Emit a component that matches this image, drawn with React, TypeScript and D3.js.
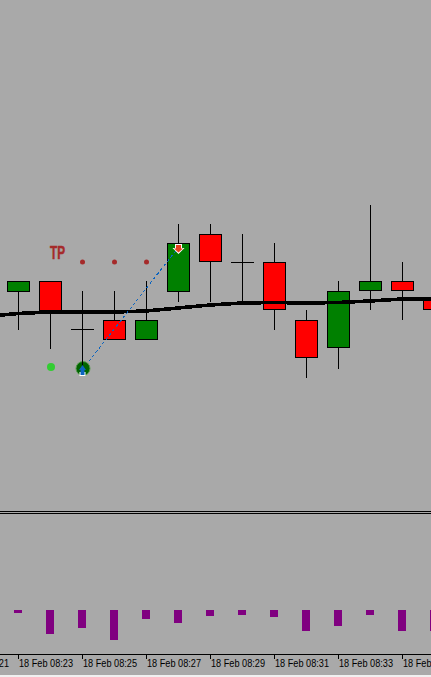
import React from "react";
import * as d3 from "d3";

const W = 431, H = 677;
// Prices are expressed in chart points (one point per screen pixel row)
const openClose = [
  [219, 208], [219, 189], [171, 171], [180, 160], [160, 180], [208, 257], [266, 238],
  [238, 238], [238, 190], [180, 142], [152, 209], [209, 219], [219, 209], [200, 190],
];
const highs = [219, 219, 209, 209, 219, 276, 276, 266, 257, 190, 219, 295, 238, 200];
const lows = [170, 151, 130, 160, 160, 198, 198, 197, 170, 122, 131, 190, 180, 190];
const redFlags = [0, 1, 0, 1, 0, 0, 1, 0, 1, 1, 0, 0, 1, 1];
const maValues = [183.5, 186.5, 188, 188, 188, 189, 192, 195, 197, 197.5, 197, 197.5, 199, 201, 201];
const histValues = [3, 24, 18, 30, 9, 13, 6, 5, 7, 21, 16, 5, 21, 21];
const tickLabels = ["18 Feb 08:21", "18 Feb 08:23", "18 Feb 08:25", "18 Feb 08:27", "18 Feb 08:29", "18 Feb 08:31", "18 Feb 08:33", "18 Feb 08:35"];
const tickIndex = [-2, 0, 2, 4, 6, 8, 10, 12];
const tpDots = [2, 3, 4];
const tradeOpen = { i: 2, price: 130 };
const tradeClose = { i: 5, price: 252 };
const entryDot = { i: 1, price: 133 };

const x = d3.scaleLinear().domain([0, 13]).range([18, 434]);
const y = d3.scaleLinear().domain([0, 300]).range([500, 200]);
const h = d3.scaleLinear().domain([0, 30]).range([610, 640]);

const ma = d3.line<number>().x((_, i) => x(i - 1)).y((d) => y(d));

export default function App() {
  return (
    <svg width={W} height={H} viewBox={`0 0 ${W} ${H}`} style={{ position: "absolute", left: 0, top: 0, display: "block" }}>
      <rect width={W} height={H} fill="#f0f0f0" />
      <rect width={W} height={675} fill="#a9a9a9" />

      <g shapeRendering="crispEdges">
        {highs.map((hi, i) => (
          <line key={i} x1={x(i) + 0.5} x2={x(i) + 0.5} y1={y(hi)} y2={y(lows[i])} stroke="#000" />
        ))}
        {openClose.map(([o, c], i) => {
          const top = y(Math.max(o, c));
          const bot = y(Math.min(o, c));
          if (o === c) {
            return <line key={i} x1={x(i) - 11} x2={x(i) + 12} y1={top + 0.5} y2={top + 0.5} stroke="#000" />;
          }
          return (
            <rect key={i} x={x(i) - 10.5} y={top + 0.5} width={22} height={bot - top - 1}
              fill={redFlags[i] ? "#ff0000" : "#008000"} stroke="#000" />
          );
        })}
      </g>

      <path d={ma(maValues) ?? ""} fill="none" stroke="#000" strokeWidth={3.6} shapeRendering="crispEdges" />

      <line x1={x(tradeOpen.i)} y1={y(tradeOpen.price)} x2={x(tradeClose.i)} y2={y(tradeClose.price)}
        stroke="#0a64c0" strokeWidth={1} strokeDasharray="3 2.5" shapeRendering="crispEdges" />

      <text x={50} y={259} fontFamily="'Liberation Sans'" fontWeight={700} fontSize={18}
        fill="#a52a2a" stroke="#a52a2a" strokeWidth={0.5} textLength={15} lengthAdjust="spacingAndGlyphs">TP</text>
      {tpDots.map((i) => (
        <circle key={i} cx={x(i) + 0.5} cy={y(238)} r={2.5} fill="#a52a2a" />
      ))}
      <circle cx={x(entryDot.i) + 1} cy={y(entryDot.price)} r={4} fill="#32cd32" />

      <circle cx={x(2) + 1} cy={368.5} r={7} fill="#006400" stroke="#5a9a50" strokeWidth={1} />
      <line x1={x(2) + 0.5} x2={x(2) + 0.5} y1={361} y2={367} stroke="#000" />
      <path d={d3.line()([[79.5, 372], [85.5, 372], [85.5, 376], [79.5, 376]]) + "Z"} fill="#fff" />
      <path d={d3.line()([[82.5, 365], [86, 370], [84.5, 370], [84.5, 375], [80.5, 375], [80.5, 370], [79, 370]]) + "Z"} fill="#0a64c0" />

      <path d={d3.line()([[175, 244], [182, 244], [182, 248], [184.5, 248], [178.5, 254], [172.5, 248], [175, 248]]) + "Z"} fill="#fff" />
      <path d={d3.line()([[176, 245], [181, 245], [181, 248.5], [183, 248.5], [178.5, 252.5], [174, 248.5], [176, 248.5]]) + "Z"} fill="#e8401c" />

      <g shapeRendering="crispEdges">
        <line x1={0} x2={W} y1={511.5} y2={511.5} stroke="#000" />
        <line x1={0} x2={W} y1={513.5} y2={513.5} stroke="#000" />
        {histValues.map((v, i) => (
          <rect key={i} x={x(i) - 4} y={h(0)} width={8} height={h(v) - h(0)} fill="#800080" />
        ))}
        <line x1={0} x2={W} y1={654.5} y2={654.5} stroke="#000" />
        {tickIndex.map((i) => (
          <line key={i} x1={x(i) + 0.5} x2={x(i) + 0.5} y1={654} y2={659} stroke="#000" />
        ))}
      </g>
      {tickIndex.map((i, k) => (
        <text key={i} x={x(i) + 1} y={667} fontFamily="'Liberation Sans'" fontSize={11} fill="#000"
          textLength={54} lengthAdjust="spacingAndGlyphs">{tickLabels[k]}</text>
      ))}
    </svg>
  );
}
